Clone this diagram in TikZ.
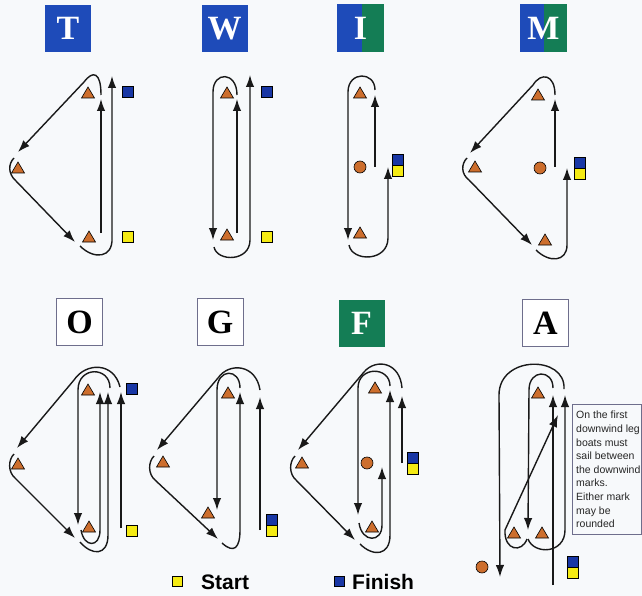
\documentclass[tikz,border=0pt]{standalone}
\usepackage{fontspec}
\setmainfont{Liberation Serif}
\newfontfamily\sansf{Liberation Sans}
\usetikzlibrary{arrows.meta}
\definecolor{bgc}{RGB}{247,249,251}
\definecolor{boxblue}{RGB}{30,75,185}
\definecolor{boxgreen}{RGB}{20,125,85}
\definecolor{markor}{RGB}{205,110,45}
\definecolor{finblue}{RGB}{25,55,165}
\definecolor{styell}{RGB}{245,235,20}
\definecolor{frameg}{RGB}{110,110,140}
\begin{document}
\begin{tikzpicture}[x=1pt,y=-1pt,
  course/.style={line width=1.4pt,black!90},
  arr/.style={course,-{Latex[length=12pt,width=8.5pt]}},
  sq/.style={draw,line width=0.6pt,minimum size=11pt,inner sep=0pt,outer sep=0pt},
  buoy/.style={circle,draw,fill=markor,line width=0.6pt,minimum size=12pt,inner sep=0pt},
  titlebox/.style={minimum width=46pt,minimum height=47pt,inner sep=0pt,font=\bfseries\fontsize{34}{34}\selectfont},
  tri/.pic={\draw[fill=markor,line width=0.6pt] (-6.5,5) -- (6.5,5) -- (0,-6) -- cycle;},
  note/.style={font=\sansf\fontsize{10.5}{13.6}\selectfont,align=left,anchor=north west,inner sep=0pt,text=black!85}
]
\useasboundingbox (0,0) rectangle (642,596);
\fill[bgc] (0,0) rectangle (642,596);

% ---------- titles ----------
\node[titlebox,fill=boxblue,text=white] (tT) at (68,28.5) {T};
\node[titlebox,fill=boxblue,text=white] (tW) at (224.5,28.5) {W};
\fill[boxblue] (337,4) rectangle (362,52);
\fill[boxgreen] (362,4) rectangle (384,52);
\node[titlebox,text=white] (tI) at (360.5,28) {I};
\fill[boxblue] (520,4) rectangle (544,52);
\fill[boxgreen] (544,4) rectangle (567,52);
\node[titlebox,text=white] (tM) at (543.5,28) {M};
\node[titlebox,fill=white,draw=frameg,line width=0.6pt] (tO) at (79.5,322) {O};
\node[titlebox,fill=white,draw=frameg,line width=0.6pt] (tG) at (220,322) {G};
\node[titlebox,fill=boxgreen,text=white] (tF) at (361.5,323.5) {F};
\node[titlebox,fill=white,draw=frameg,line width=0.6pt] (tA) at (545.5,323) {A};

% ---------- T ----------
\draw[arr] (101,233) -- (101,99);
\draw[arr] (101,95) .. controls (101,72) and (93,70) .. (84,82) -- (18,152);
\draw[arr] (14,158) .. controls (8,164) and (8,174) .. (16,181) -- (75,242);
\draw[arr] (80,246) .. controls (94,260) and (113,258) .. (112,238) -- (112,76);
\pic (T1) at (88,93) {tri};
\pic (T2) at (18,168) {tri};
\pic (T3) at (89,237) {tri};
\node[sq,fill=finblue] (Tf) at (128,92) {};
\node[sq,fill=styell] (Ts) at (128,237) {};

% ---------- W ----------
\draw[arr] (237,233) -- (237,99);
\draw[arr] (237,95) .. controls (237,71) and (213,71) .. (213,92) -- (213,240);
\draw[arr] (214,247) .. controls (217,262) and (250,262) .. (250,240) -- (250,75);
\pic (W1) at (227,93) {tri};
\pic (W3) at (227,235) {tri};
\node[sq,fill=finblue] (Wf) at (267,92) {};
\node[sq,fill=styell] (Ws) at (267,237) {};

% ---------- I ----------
\draw[arr] (375,167) -- (375,95);
\draw[arr] (375,90) .. controls (375,71) and (348,71) .. (348,92) -- (348,240);
\draw[arr] (349,245) .. controls (352,262) and (388,262) .. (388,238) -- (388,167);
\pic (I1) at (360,93) {tri};
\node[buoy] (Ib) at (360,167) {};
\pic (I3) at (360,233) {tri};
\node[sq,fill=finblue] (If) at (398,160) {};
\node[sq,fill=styell] (Is) at (398,171) {};

% ---------- M ----------
\draw[arr] (555,167) -- (555,99);
\draw[arr] (555,95) .. controls (555,74) and (541,72) .. (533,85) -- (470,153);
\draw[arr] (467,158) .. controls (461,164) and (461,174) .. (469,180) -- (532,245);
\draw[arr] (536,250) .. controls (549,263) and (567,262) .. (567,245) -- (567,168);
\pic (M1) at (538,95) {tri};
\pic (M2) at (475,167) {tri};
\node[buoy] (Mb) at (540,168) {};
\pic (M3) at (545,240) {tri};
\node[sq,fill=finblue] (Mf) at (580,162.5) {};
\node[sq,fill=styell] (Ms) at (580,173.5) {};

% ---------- O ----------
\draw[arr] (121,528) -- (121,392);
\draw[arr] (120,387) .. controls (114,362) and (86,362) .. (74,380) -- (17,448);
\draw[arr] (14,454) .. controls (8,460) and (8,472) .. (15,478) -- (75,538);
\draw[arr] (80,542) .. controls (92,556) and (108,556) .. (108,535) -- (108,392);
\draw[arr] (110,388) .. controls (110,366) and (78,366) .. (78,390) -- (78,525);
\draw[arr] (81,530) .. controls (84,548) and (100,548) .. (100,530) -- (100,392);
\pic (O1) at (88,390) {tri};
\pic (O2) at (18,464) {tri};
\pic (O3) at (89,527) {tri};
\node[sq,fill=finblue] (Of) at (132,389) {};
\node[sq,fill=styell] (Os) at (132,531) {};

% ---------- G ----------
\draw[arr] (260,530) -- (260,397);
\draw[arr] (260,390) .. controls (256,364) and (229,362) .. (218,378) -- (157,450);
\draw[arr] (154,456) .. controls (148,462) and (148,474) .. (155,480) -- (218,539);
\draw[arr] (222,543) .. controls (234,554) and (240,548) .. (240,530) -- (240,392);
\draw[arr] (240,388) .. controls (240,368) and (217,368) .. (217,390) -- (217,510);
\pic (G1) at (228,393) {tri};
\pic (G2) at (163,462) {tri};
\pic (G3) at (208,513) {tri};
\node[sq,fill=finblue] (Gf) at (272,520) {};
\node[sq,fill=styell] (Gs) at (272,531) {};

% ---------- F ----------
\draw[arr] (402,463) -- (402,396);
\draw[arr] (402,388) .. controls (400,362) and (376,358) .. (364,372) -- (298,450);
\draw[arr] (295,456) .. controls (289,462) and (289,474) .. (296,480) -- (355,540);
\draw[arr] (360,544) .. controls (373,557) and (390,556) .. (390,535) -- (390,390);
\draw[arr] (390,386) .. controls (390,366) and (358,366) .. (358,388) -- (358,515);
\draw[arr] (359,523) .. controls (362,543) and (382,543) .. (382,525) -- (382,467);
\pic (F1) at (375,388) {tri};
\pic (F2) at (302,463) {tri};
\node[buoy] (Fb) at (367,463) {};
\pic (F3) at (372,527) {tri};
\node[sq,fill=finblue] (Ff) at (413,458) {};
\node[sq,fill=styell] (Fs) at (413,469) {};

% ---------- A ----------
\draw[arr] (553,585) -- (553,395);
\draw[arr] (553,388) .. controls (553,369) and (529,369) .. (529,390) -- (528,530);
\draw[arr] (527,539) .. controls (522,553) and (504,551) .. (505,530) -- (558,415);
\draw[arr] (528,539) .. controls (534,555) and (565,554) .. (565,530) -- (565,395);
\draw[arr] (564,389) .. controls (566,355) and (499,355) .. (499,395) -- (500,577);
\pic (A1) at (538,393) {tri};
\pic (A3a) at (514,533) {tri};
\pic (A3b) at (542,533) {tri};
\node[buoy] (Ab) at (482,567) {};
\node[sq,fill=finblue] (Af) at (572.5,561.5) {};
\node[sq,fill=styell] (As) at (572.5,572.5) {};
\draw[frameg,line width=0.6pt,fill=bgc] (572,404) rectangle (641.5,534);
\node[note] (An) at (576,411) {On the first\\downwind leg\\boats must\\sail between\\the downwind\\marks.\\Either mark\\may be\\rounded};

% ---------- legend ----------
\node[sq,fill=styell,minimum size=10pt] (Ls) at (177,581) {};
\node[anchor=west,inner sep=0pt,font=\sansf\bfseries\fontsize{21}{21}\selectfont] (Lst) at (201,582) {Start};
\node[sq,fill=finblue,minimum size=10pt] (Lf) at (339,581) {};
\node[anchor=west,inner sep=0pt,font=\sansf\bfseries\fontsize{21}{21}\selectfont] (Lft) at (352,582) {Finish};
\end{tikzpicture}
\end{document}
